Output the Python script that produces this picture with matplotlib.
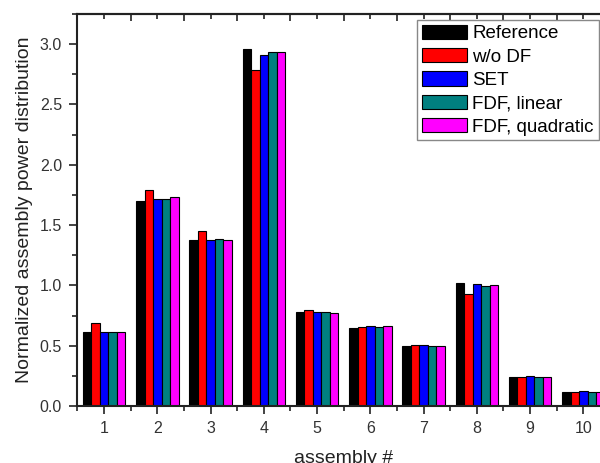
import matplotlib
matplotlib.use('Agg')
import matplotlib.pyplot as plt
import numpy as np
from matplotlib.ticker import MultipleLocator

plt.rcParams['font.family'] = ['Liberation Sans', 'DejaVu Sans']

assemblies = [1, 2, 3, 4, 5, 6, 7, 8, 9, 10]
series_names = ['Reference', 'w/o DF', 'SET', 'FDF, linear', 'FDF, quadratic']
reference = [0.61, 1.70, 1.373, 2.96, 0.779, 0.649, 0.497, 1.022, 0.240, 0.118]
wo_df = [0.685, 1.79, 1.45, 2.784, 0.795, 0.657, 0.505, 0.925, 0.240, 0.118]
set_vals = [0.615, 1.715, 1.375, 2.914, 0.782, 0.665, 0.505, 1.008, 0.248, 0.124]
fdf_linear = [0.615, 1.72, 1.386, 2.933, 0.782, 0.652, 0.500, 0.997, 0.242, 0.119]
fdf_quadratic = [0.61, 1.737, 1.373, 2.939, 0.770, 0.660, 0.495, 1.005, 0.242, 0.119]
colors = ['#000000', '#FF0000', '#0000FF', '#008080', '#FF00FF']

fig = plt.figure(figsize=(6, 4.63), dpi=100)
ax = fig.add_axes([0.129, 0.123, 0.8877, 0.8467])
x = np.array(assemblies, dtype=float)
w = 0.16
for i, (vals, name, c) in enumerate(zip([reference, wo_df, set_vals, fdf_linear, fdf_quadratic], series_names, colors)):
    ax.bar(x + (i - 2) * w, vals, width=w, color=c, edgecolor='black', linewidth=0.8, label=name)

ax.set_xlim(0.5, 10.5); ax.set_ylim(0, 3.25)
ax.set_xticks(assemblies); ax.xaxis.set_minor_locator(MultipleLocator(0.5))
ax.yaxis.set_major_locator(MultipleLocator(0.5)); ax.yaxis.set_minor_locator(MultipleLocator(0.25))
ax.yaxis.set_major_formatter(matplotlib.ticker.FormatStrFormatter('%.1f'))
ax.tick_params(which='major', direction='out', length=6, width=1.2, labelsize=11.5, colors='#222222', labelcolor='#333333', pad=5)
ax.tick_params(which='minor', direction='out', length=3.5, width=1.2, colors='#222222')
ax.tick_params(axis='x', which='both', top=False)
for s in ['left', 'bottom', 'top']:
    ax.spines[s].set_linewidth(1.5); ax.spines[s].set_color('#222222')
ax.spines['right'].set_visible(False)
sec = ax.secondary_xaxis('top')
sec.set_xticks([1.5, 2.5, 3.5, 4.5, 5.5, 6.5, 7.5, 8.5, 9.5]); sec.set_xticklabels([])
sec.xaxis.set_minor_locator(MultipleLocator(1))
sec.tick_params(which='major', direction='in', length=5, width=1.2, colors='#222222')
sec.tick_params(which='minor', direction='in', length=3.5, width=1.2, colors='#222222')
sec.spines['top'].set_linewidth(1.5); sec.spines['top'].set_color('#222222')

ax.set_ylabel('Normalized assembly power distribution', fontsize=14, color='#222222', labelpad=5)
ax.set_xlabel('assembly #', fontsize=14, color='#222222', labelpad=10)

leg = ax.legend(loc='upper left', bbox_to_anchor=(0.695, 0.957), bbox_transform=fig.transFigure, borderaxespad=0,
                fontsize=13.5, handlelength=2.4, handleheight=0.8, handletextpad=0.3, labelspacing=0.3,
                fancybox=False, framealpha=1, edgecolor='#888888', borderpad=0.25)
leg.get_frame().set_linewidth(1.0)

fig.savefig('out.png', dpi=100)
